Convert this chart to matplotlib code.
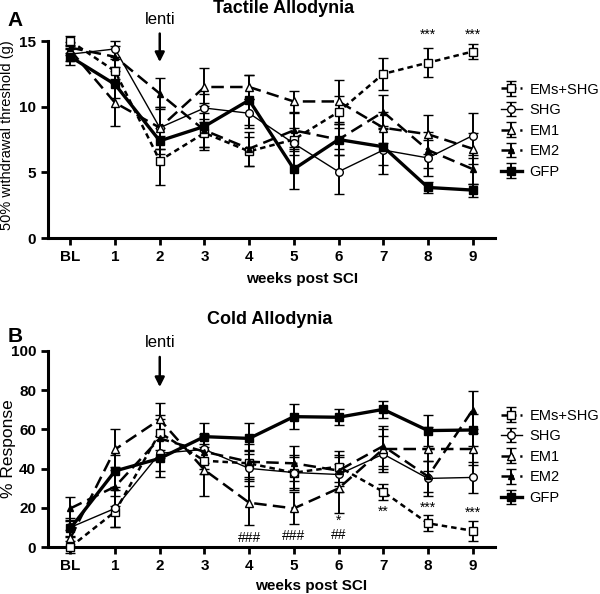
import numpy as np
import matplotlib
matplotlib.use('Agg')
import matplotlib.pyplot as plt

plt.rcParams['font.family'] = ['Liberation Sans', 'DejaVu Sans']

# x categories
weeks = ['BL', '1', '2', '3', '4', '5', '6', '7', '8', '9']
groups = ['EMs+SHG', 'SHG', 'EM1', 'EM2', 'GFP']

# Panel A: tactile allodynia, 50% withdrawal threshold (g)
tact_ems_shg = [15.0, 12.7, 5.9, 8.0, 6.6, 7.5, 9.6, 12.5, 13.35, 14.2]
tact_shg = [14.0, 14.4, 8.4, 9.9, 9.5, 7.2, 5.05, 6.7, 6.1, 7.8]
tact_em1 = [14.3, 10.3, 8.4, 11.5, 11.5, 10.4, 10.4, 8.4, 7.9, 6.8]
tact_em2 = [14.5, 13.8, 11.0, 8.2, 6.8, 8.2, 7.5, 9.6, 6.7, 5.25]
tact_gfp = [13.8, 11.7, 7.4, 8.5, 10.5, 5.25, 7.5, 6.95, 3.85, 3.65]

tact_ems_shg_err = [0.4, 0.9, 1.9, 1.1, 1.1, 0.9, 1.2, 1.2, 1.1, 0.6]
tact_shg_err = [0.5, 0.6, 1.6, 1.1, 1.1, 0.9, 1.7, 1.8, 1.4, 1.7]
tact_em1_err = [0.4, 1.8, 1.6, 1.45, 0.9, 0.8, 1.6, 1.2, 1.5, 1.2]
tact_em2_err = [0.4, 0.8, 1.2, 1.3, 1.3, 1.3, 1.2, 1.3, 1.4, 1.1]
tact_gfp_err = [0.6, 1.0, 1.0, 1.8, 1.9, 1.5, 1.2, 1.4, 0.4, 0.5]

# Panel B: cold allodynia, % response
cold_ems_shg = [0.0, 18.0, 58.3, 44.0, 42.7, 37.9, 41.0, 28.2, 12.1, 8.3]
cold_shg = [10.0, 19.7, 47.8, 49.8, 40.1, 38.0, 37.0, 47.4, 35.0, 35.5]
cold_em1 = [4.5, 49.8, 65.1, 39.3, 22.6, 19.7, 29.9, 50.0, 50.0, 50.0]
cold_em2 = [19.7, 30.8, 55.4, 48.6, 43.5, 42.7, 39.0, 51.5, 36.0, 69.9]
cold_gfp = [9.5, 38.8, 45.2, 56.3, 55.4, 66.5, 66.2, 70.2, 59.4, 59.7]

cold_ems_shg_err = [3.0, 8.0, 9.0, 7.0, 7.0, 8.0, 8.0, 4.0, 4.0, 5.0]
cold_shg_err = [5.0, 9.5, 9.0, 7.0, 9.0, 9.0, 9.0, 9.0, 9.0, 8.0]
cold_em1_err = [4.0, 10.5, 8.5, 13.3, 11.3, 8.2, 12.5, 10.0, 11.0, 8.0]
cold_em2_err = [6.0, 10.0, 10.0, 9.0, 9.0, 9.0, 8.0, 10.0, 8.0, 9.7]
cold_gfp_err = [4.0, 8.0, 9.5, 7.0, 8.0, 6.3, 4.0, 4.5, 7.8, 8.0]

# significance marks: (week index, y value, text)
tact_marks = [(8, 15.45, '***'), (9, 15.45, '***')]
cold_marks = [(4, 4.6, '###'), (5, 5.8, '###'), (6, 13.2, '*'), (6, 6.3, '##'),
              (7, 18.0, '**'), (8, 20.0, '***'), (9, 17.5, '***')]

styles = {
    'EMs+SHG': dict(marker='s', mfc='white', ls=(0, (2.2, 1.6)), lw=1.8, ms=5.5),
    'SHG': dict(marker='o', mfc='white', ls='-', lw=1.0, ms=5.5),
    'EM1': dict(marker='^', mfc='white', ls=(0, (5, 2.5)), lw=1.8, ms=6),
    'EM2': dict(marker='^', mfc='black', ls=(0, (5, 2.5)), lw=1.8, ms=5),
    'GFP': dict(marker='s', mfc='black', ls='-', lw=2.4, ms=5.5),
}

x = np.arange(len(weeks))

fig = plt.figure(figsize=(6.0, 5.94), dpi=100)
axA = fig.add_axes([0.08, 0.5993, 0.745, 0.3316])
axB = fig.add_axes([0.08, 0.0791, 0.745, 0.33])


def draw_panel(ax, series, errs):
    for name, yv, ev in zip(groups, series, errs):
        st = styles[name]
        ax.errorbar(x, yv, yerr=ev, color='black', marker=st['marker'],
                    mfc=st['mfc'], mec='black', mew=1.0, ms=st['ms'],
                    ls=st['ls'], lw=st['lw'], elinewidth=1.4, capsize=3.5,
                    capthick=1.4, label=name, clip_on=False, zorder=3)
    ax.set_xlim(-0.5, 9.5)
    ax.set_xticks(x)
    ax.set_xticklabels(weeks)
    for s in ['top', 'right']:
        ax.spines[s].set_visible(False)
    for s in ['left', 'bottom']:
        ax.spines[s].set_linewidth(2.2)
    ax.tick_params(direction='out', length=5, width=2, labelsize=11)
    for lab in ax.get_xticklabels() + ax.get_yticklabels():
        lab.set_fontweight('bold')
    ax.set_xlabel('weeks post SCI', fontsize=11, fontweight='bold')
    ax.legend(loc='center left', frameon=False, fontsize=10.5, handlelength=1.45,
              handletextpad=0.5, labelspacing=0.45, borderaxespad=0)


draw_panel(axA, [tact_ems_shg, tact_shg, tact_em1, tact_em2, tact_gfp],
           [tact_ems_shg_err, tact_shg_err, tact_em1_err, tact_em2_err, tact_gfp_err])
axA.set_ylim(0, 15)
axA.set_yticks([0, 5, 10, 15])
axA.set_ylabel('50% withdrawal threshold (g)', fontsize=10.5)
axA.yaxis.set_label_coords(-0.076, 0.52)
axA.xaxis.set_label_coords(0.568, -0.173)
axA.get_legend().set_bbox_to_anchor((1.0, 0.545))
for wk, yv, txt in tact_marks:
    axA.text(wk, yv, txt, ha='center', va='center', fontsize=10, clip_on=False)
axA.annotate('lenti', xy=(2, 13.4), xytext=(2, 16.1), ha='center', va='bottom',
             fontsize=12, annotation_clip=False,
             arrowprops=dict(arrowstyle='-|>', color='black', lw=1.8, mutation_scale=14,
                             shrinkA=3, shrinkB=0))

draw_panel(axB, [cold_ems_shg, cold_shg, cold_em1, cold_em2, cold_gfp],
           [cold_ems_shg_err, cold_shg_err, cold_em1_err, cold_em2_err, cold_gfp_err])
axB.set_ylim(0, 100)
axB.set_yticks([0, 20, 40, 60, 80, 100])
axB.set_ylabel('% Response', fontsize=12.5)
axB.yaxis.set_label_coords(-0.072, 0.5)
axB.xaxis.set_label_coords(0.588, -0.163)
axB.get_legend().set_bbox_to_anchor((1.0, 0.46))
for wk, yv, txt in cold_marks:
    axB.text(wk, yv, txt, ha='center', va='center', fontsize=10)
axB.annotate('lenti', xy=(2, 81.6), xytext=(2, 100.5), ha='center', va='bottom',
             fontsize=12, annotation_clip=False,
             arrowprops=dict(arrowstyle='-|>', color='black', lw=1.8, mutation_scale=14,
                             shrinkA=3, shrinkB=0))

fig.text(0.473, 0.9865, 'Tactile Allodynia', fontsize=13, fontweight='bold',
         ha='center', va='center')
fig.text(0.45, 0.4613, 'Cold Allodynia', fontsize=13, fontweight='bold',
         ha='center', va='center')
fig.text(0.012, 0.966, 'A', fontsize=15, fontweight='bold', va='center')
fig.text(0.012, 0.433, 'B', fontsize=15, fontweight='bold', va='center')

plt.savefig('out.png', dpi=100)
